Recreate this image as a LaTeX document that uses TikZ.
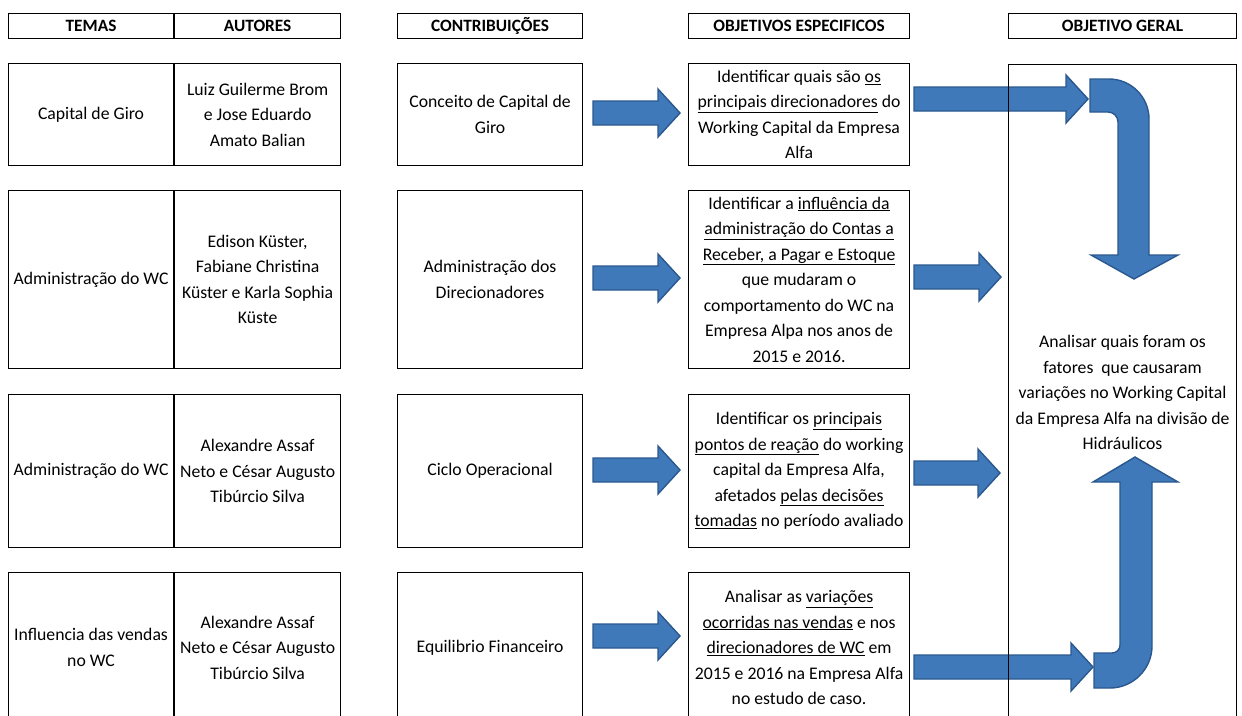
\documentclass[tikz,border=0pt]{standalone}
\usepackage{fontspec}
\setmainfont{Carlito}
\usepackage{tikz}
\usetikzlibrary{positioning}
\definecolor{arrowblue}{RGB}{64,121,186}
\definecolor{arrowedge}{RGB}{42,88,142}
\newcommand{\cellfont}{\fontsize{17.7}{25.5}\selectfont}
\newcommand{\headfont}{\fontsize{17.3}{20}\selectfont\bfseries}
\newcommand{\blockarrow}[3]{%
  \draw[barrow] (#1,#3-12) -- (#2-22,#3-12) -- (#2-22,#3-24) -- (#2,#3)
    -- (#2-22,#3+24) -- (#2-22,#3+12) -- (#1,#3+12) -- cycle;}

\begin{document}
\begin{tikzpicture}[x=1pt,y=-1pt,
    cell/.style={draw,line width=1.1pt,inner sep=0pt,align=center,anchor=north west,font=\cellfont},
    head/.style={cell,minimum height=25pt,font=\headfont},
    barrow/.style={fill=arrowblue,draw=arrowedge,line width=1.4pt,line join=miter}]

    \useasboundingbox (0,0) rectangle (1242,715);
    \clip (0,0) rectangle (1242,715);

    % block arrows
    \blockarrow{593}{680}{113}
    \blockarrow{593}{680}{278}
    \blockarrow{593}{680}{470}
    \blockarrow{593}{680}{636}
    \blockarrow{914}{1088}{99}
    \blockarrow{914}{1001}{277}
    \blockarrow{914}{1000}{473}
    \blockarrow{914}{1093}{667}

    \draw[barrow] (1090,79) -- (1109,79) .. controls (1131,79) and (1149,97) .. (1149,119)
        -- (1149,255) -- (1178,255) -- (1134,279) -- (1091,255) -- (1118,255) -- (1118,122)
        .. controls (1118,116.5) and (1113.5,112) .. (1108,112) -- (1090,112) -- cycle;
    \draw[barrow] (1094,653) -- (1112,653) .. controls (1116.5,653) and (1120,649.5) .. (1120,645)
        -- (1120,482) -- (1093,482) -- (1135,457) -- (1178,482) -- (1152,482) -- (1152,646)
        .. controls (1152,669) and (1133,688) .. (1110,688) -- (1094,688) -- cycle;

    % headers
    \node[head,minimum width=165pt] (hTemas) at (8,13) {TEMAS};
    \node[head,minimum width=166pt,right=0pt of hTemas] (hAutores) {AUTORES};
    \node[head,minimum width=185pt] (hContrib) at (397,13) {CONTRIBUIÇÕES};
    \node[head,minimum width=221pt] (hEspec) at (688,13) {OBJETIVOS ESPECIFICOS};
    \node[head,minimum width=228pt] (hGeral) at (1008,13) {OBJETIVO GERAL};

    % row 1
    \node[cell,minimum width=165pt,minimum height=102pt] (tema1) at (8,63) {Capital de Giro};
    \node[cell,minimum width=166pt,minimum height=102pt,right=0pt of tema1] (autor1)
        {Luiz Guilerme Brom\\e Jose Eduardo\\Amato Balian};
    \node[cell,minimum width=185pt,minimum height=102pt] (contrib1) at (397,63)
        {Conceito de Capital de\\Giro};
    \node[cell,minimum width=221pt,minimum height=102pt] (espec1) at (688,63)
        {Identificar quais são \underline{os}\\\underline{principais direcionadores} do\\Working Capital da Empresa\\Alfa};

    % row 2
    \node[cell,minimum width=165pt,minimum height=178pt] (tema2) at (8,190) {Administração do WC};
    \node[cell,minimum width=166pt,minimum height=178pt,right=0pt of tema2] (autor2)
        {Edison Küster,\\Fabiane Christina\\Küster e Karla Sophia\\Küste};
    \node[cell,minimum width=185pt,minimum height=178pt] (contrib2) at (397,190)
        {Administração dos\\Direcionadores};
    \node[cell,minimum width=221pt,minimum height=178pt] (espec2) at (688,190)
        {Identificar a \underline{influência da}\\\underline{administração do Contas a}\\\underline{Receber, a Pagar e Estoque}\\que mudaram o\\comportamento do WC na\\Empresa Alpa nos anos de\\2015 e 2016.};

    % row 3
    \node[cell,minimum width=165pt,minimum height=153pt] (tema3) at (8,394) {Administração do WC};
    \node[cell,minimum width=166pt,minimum height=153pt,right=0pt of tema3] (autor3)
        {Alexandre Assaf\\Neto e César Augusto\\Tibúrcio Silva};
    \node[cell,minimum width=185pt,minimum height=153pt] (contrib3) at (397,394) {Ciclo Operacional};
    \node[cell,minimum width=221pt,minimum height=153pt] (espec3) at (688,394)
        {Identificar os \underline{principais}\\\underline{pontos de reação} do working\\capital da Empresa Alfa,\\afetados \underline{pelas decisões}\\\underline{tomadas} no período avaliado};

    % row 4
    \node[cell,minimum width=165pt,minimum height=150pt] (tema4) at (8,572)
        {Influencia das vendas\\no WC};
    \node[cell,minimum width=166pt,minimum height=150pt,right=0pt of tema4] (autor4)
        {Alexandre Assaf\\Neto e César Augusto\\Tibúrcio Silva};
    \node[cell,minimum width=185pt,minimum height=150pt] (contrib4) at (397,572) {Equilibrio Financeiro};
    \node[cell,minimum width=221pt,minimum height=150pt] (espec4) at (688,572)
        {Analisar as \underline{variações}\\\underline{ocorridas nas vendas} e nos\\\underline{direcionadores de WC} em\\2015 e 2016 na Empresa Alfa\\no estudo de caso.};

    \node[cell,minimum width=228pt,minimum height=656pt] (geral) at (1008,64)
        {Analisar quais foram os\\fatores~ que causaram\\variações no Working Capital\\da Empresa Alfa na divisão de\\Hidráulicos};

\end{tikzpicture}
\end{document}
